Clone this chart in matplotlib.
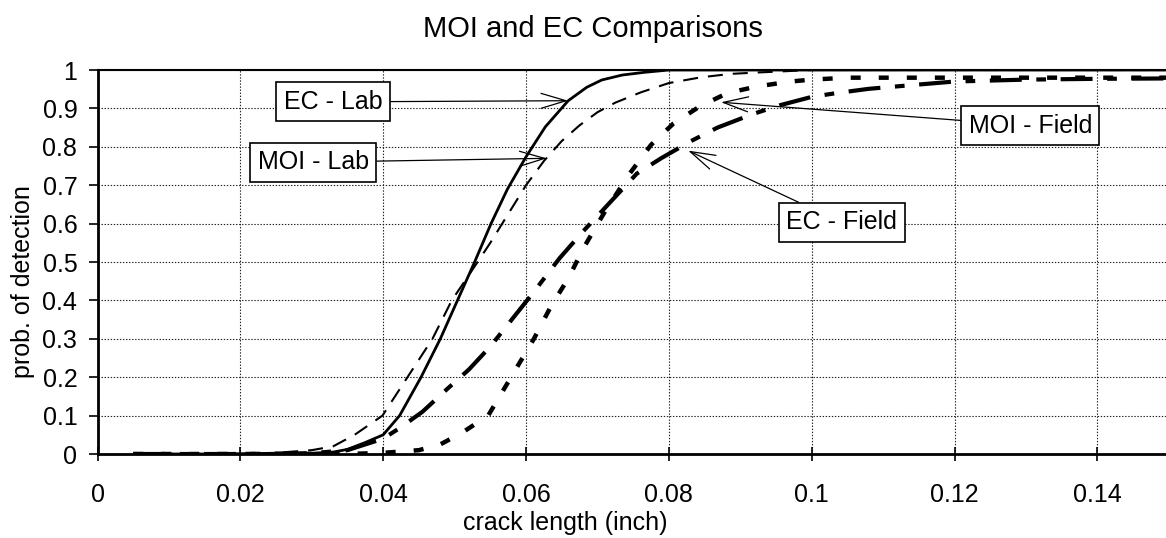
import matplotlib
matplotlib.use("Agg")
import matplotlib.pyplot as plt

plt.rcParams['font.family'] = ['Liberation Sans', 'DejaVu Sans']
plt.rcParams['lines.scale_dashes'] = False

# ---------------- data ----------------
ec_lab_x = [0.005, 0.01, 0.02, 0.03, 0.033, 0.035, 0.0375, 0.04, 0.0423, 0.0453, 0.048,
            0.0504, 0.0528, 0.0551, 0.0574, 0.06, 0.0627, 0.0659, 0.0685, 0.0706,
            0.0735, 0.0766, 0.08, 0.09, 0.1, 0.12, 0.15]
ec_lab_y = [0.0, 0.0, 0.0, 0.002, 0.005, 0.012, 0.03, 0.05, 0.1, 0.2, 0.3,
            0.4, 0.5, 0.6, 0.69, 0.774, 0.852, 0.92, 0.955, 0.974,
            0.987, 0.994, 1.0, 1.0, 1.0, 1.0, 1.0]

moi_lab_x = [0.005, 0.02, 0.025, 0.03, 0.033, 0.036, 0.0399, 0.0434, 0.0469, 0.0496,
             0.0525, 0.055, 0.0575, 0.06, 0.0625, 0.065, 0.0675, 0.07, 0.0725,
             0.0761, 0.08, 0.0845, 0.0887, 0.093, 0.1, 0.15]
moi_lab_y = [0.0, 0.001, 0.003, 0.01, 0.02, 0.05, 0.1, 0.2, 0.3, 0.4,
             0.48, 0.55, 0.625, 0.7, 0.763, 0.815, 0.856, 0.89, 0.915,
             0.942, 0.966, 0.981, 0.99, 0.994, 1.0, 1.0]

ec_field_x = [0.005, 0.02, 0.03, 0.035, 0.04, 0.0425, 0.0455, 0.049, 0.052, 0.055, 0.058,
              0.061, 0.0647, 0.068, 0.072, 0.0755, 0.0789, 0.0831, 0.0868, 0.0917, 0.0955,
              0.1, 0.1035, 0.108, 0.1155, 0.12, 0.13, 0.14, 0.15]
ec_field_y = [0.0, 0.0, 0.002, 0.01, 0.04, 0.07, 0.11, 0.17, 0.22, 0.28, 0.35,
              0.42, 0.51, 0.58, 0.66, 0.73, 0.77, 0.815, 0.85, 0.885, 0.908,
              0.93, 0.94, 0.951, 0.963, 0.97, 0.975, 0.977, 0.978]

moi_field_x = [0.005, 0.02, 0.035, 0.04, 0.045, 0.048, 0.051, 0.0547, 0.0579, 0.0611,
               0.0635, 0.066, 0.068, 0.071, 0.0745, 0.0775, 0.0806, 0.0843, 0.0882,
               0.0923, 0.097, 0.1, 0.105, 0.12, 0.15]
moi_field_y = [0.0, 0.0, 0.0, 0.003, 0.01, 0.025, 0.055, 0.1, 0.2, 0.3,
               0.385, 0.46, 0.535, 0.63, 0.73, 0.805, 0.86, 0.905, 0.94,
               0.957, 0.97, 0.975, 0.98, 0.98, 0.98]

x_ticks = [0, 0.02, 0.04, 0.06, 0.08, 0.1, 0.12, 0.14]
x_tick_labels = ['0', '0.02', '0.04', '0.06', '0.08', '0.1', '0.12', '0.14']
y_ticks = [0, 0.1, 0.2, 0.3, 0.4, 0.5, 0.6, 0.7, 0.8, 0.9, 1.0]
y_tick_labels = ['0', '0.1', '0.2', '0.3', '0.4', '0.5', '0.6', '0.7', '0.8', '0.9', '1']

labels = ['EC - Lab', 'MOI - Lab', 'MOI - Field', 'EC - Field']
label_pos = [(0.033, 0.917), (0.0302, 0.76), (0.1306, 0.855), (0.1042, 0.603)]
arrow_tip = [(0.0659, 0.92), (0.0629, 0.77), (0.0873, 0.916), (0.0827, 0.79)]

title = 'MOI and EC Comparisons'
xlabel = 'crack length (inch)'
ylabel = 'prob. of detection'

# ---------------- figure ----------------
W, H = 1166, 538
fig = plt.figure(figsize=(W / 100, H / 100), dpi=100)
ax = fig.add_axes([97.5 / W, 1 - 454 / H, 1 - 97.5 / W, (454 - 70) / H])

ax.plot(ec_lab_x, ec_lab_y, color='black', lw=2.0, solid_capstyle='butt', zorder=3)
ax.plot(moi_lab_x, moi_lab_y, color='black', lw=1.5, linestyle=(0, (10.8, 7.2)),
        dash_capstyle='butt', zorder=3)
ax.plot(ec_field_x, ec_field_y, color='black', lw=3.0,
        linestyle=(0, (23, 10.5, 7, 10.5)), dash_capstyle='butt', zorder=3)
ax.plot(moi_field_x, moi_field_y, color='black', lw=3.2, linestyle=(0, (7.2, 13)),
        dash_capstyle='butt', zorder=3)

ax.set_xlim(0, 0.1496)
ax.set_ylim(0, 1)
ax.set_xticks(x_ticks)
ax.set_xticklabels(x_tick_labels)
ax.set_yticks(y_ticks)
ax.set_yticklabels(y_tick_labels)
ax.tick_params(axis='x', direction='inout', length=10, width=1.2, pad=16, labelsize=18)
ax.tick_params(axis='y', direction='out', length=6.5, width=1.2, pad=8, labelsize=18)

ax.grid(True, color='#222222', linestyle=(0, (1, 1.2)), linewidth=0.8, zorder=1)
ax.set_axisbelow(True)

ax.spines['right'].set_visible(False)
ax.spines['left'].set_linewidth(2.0)
ax.spines['bottom'].set_linewidth(2.0)
ax.spines['top'].set_linewidth(1.5)

for txt, pos, tip in zip(labels, label_pos, arrow_tip):
    ax.annotate(txt, xy=tip, xytext=pos, xycoords='data', textcoords='data',
                fontsize=18, ha='center', va='center', zorder=5,
                bbox=dict(boxstyle='square,pad=0.3', fc='white', ec='black', lw=1.2),
                arrowprops=dict(arrowstyle='->,head_length=1.0,head_width=0.3',
                                color='black', lw=0.9, shrinkA=0, shrinkB=0))

fig.text(593 / W, 1 - 37 / H, title, fontsize=21, ha='center', va='baseline')
fig.text(565 / W, 1 - 530 / H, xlabel, fontsize=18, ha='center', va='baseline')
fig.text(23 / W, 1 - 282 / H, ylabel, fontsize=18, ha='center', va='center', rotation=90)

fig.savefig('out.png', dpi=100)
